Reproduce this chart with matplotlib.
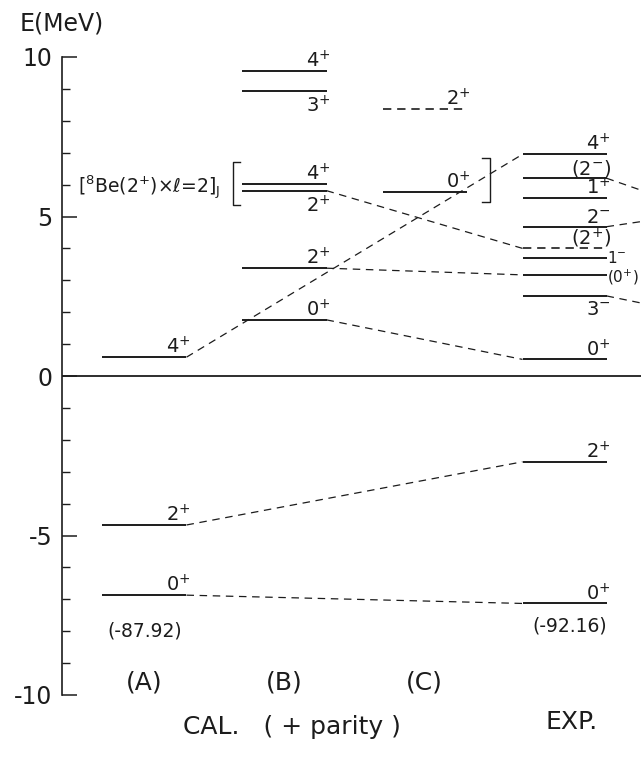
import matplotlib
matplotlib.use('Agg')
import matplotlib.pyplot as plt

plt.rcParams['font.family'] = ['DejaVu Sans']
plt.rcParams['mathtext.fontset'] = 'dejavusans'

INK = '#1c1c1c'

# ---------------- data ----------------
col_names = ['(A)', '(B)', '(C)']
col_x = [1, 2, 3, 4]          # A, B, C, EXP
half_w = 0.3

a_E = [0.59, -4.67, -6.87]
a_lab = ['4$^{+}$', '2$^{+}$', '0$^{+}$']
a_pos = ['above', 'above', 'above']

b_E = [9.57, 8.93, 6.02, 5.81, 3.38, 1.76]
b_lab = ['4$^{+}$', '3$^{+}$', '4$^{+}$', '2$^{+}$', '2$^{+}$', '0$^{+}$']
b_pos = ['above', 'below', 'above', 'below', 'above', 'above']

c_E = [8.37, 5.78]
c_lab = ['2$^{+}$', '0$^{+}$']
c_pos = ['above', 'above']
c_dashed = [True, False]

exp_E = [6.95, 6.20, 5.57, 4.68, 4.00, 3.69, 3.17, 2.51, 0.52, -2.69, -7.13]
exp_lab = ['4$^{+}$', '(2$^{-}$)', '1$^{+}$', '2$^{-}$', '(2$^{+}$)', '1$^{-}$',
           '(0$^{+}$)', '3$^{-}$', '0$^{+}$', '2$^{+}$', '0$^{+}$']
exp_pos = ['above', 'above', 'above', 'above', 'above', 'right', 'right',
           'below', 'above', 'above', 'above']
exp_dashed = [False, False, False, False, True, False, False, False, False, False, False]

# correspondences (from column, from level index) -> (to column, to level index)
links = [(0, 2, 3, 10), (0, 1, 3, 9), (0, 0, 3, 0),
         (1, 5, 3, 8), (1, 4, 3, 6), (1, 3, 3, 4)]
# links from EXP levels to the (off-chart) next column
odd_from = [1, 3, 7]
odd_E = [5.59, 4.94, 2.15]
odd_x = 5

calc_gs = '(-87.92)'
exp_gs = '(-92.16)'
yticks = [10, 5, 0, -5, -10]
ytick_labels = ['10', '5', '0', '-5', '-10']

# ---------------- figure ----------------
fig = plt.figure(figsize=(6.41, 7.66), dpi=100)
ax = fig.add_axes([62 / 641, 71 / 766, 579 / 641, 638 / 766])
ax.set_xlim(0.411, 4.546)
ax.set_ylim(-10, 10)
for s in ['top', 'right', 'bottom']:
    ax.spines[s].set_visible(False)
ax.spines['left'].set_color(INK)
ax.spines['left'].set_linewidth(1.2)
ax.set_xticks([])
ax.set_yticks(yticks)
ax.set_yticklabels(ytick_labels, fontsize=17, color=INK)
ax.set_yticks(list(range(-10, 11)), minor=True)
ax.tick_params(axis='y', which='major', direction='in', length=11, width=1.1,
               color=INK, pad=7)
ax.tick_params(axis='y', which='minor', direction='in', length=6, width=1.0,
               color=INK)

ax.axhline(0, color=INK, lw=1.3)

columns = [(a_E, a_lab, a_pos, [False] * len(a_E)),
           (b_E, b_lab, b_pos, [False] * len(b_E)),
           (c_E, c_lab, c_pos, c_dashed),
           (exp_E, exp_lab, exp_pos, exp_dashed)]

lab_fs = 14
right_dy = {'1$^{-}$': 0.5, '(0$^{+}$)': -2.0}
for ci, (Es, labs, poss, dsh) in enumerate(columns):
    xc = col_x[ci]
    for E, lab, pos, d in zip(Es, labs, poss, dsh):
        if d:
            ax.plot([xc - half_w, xc + half_w], [E, E], color=INK, lw=1.2,
                    ls=(0, (5, 3.5)))
        else:
            ax.plot([xc - half_w, xc + half_w], [E, E], color=INK, lw=1.4,
                    solid_capstyle='butt')
        xr = xc + half_w
        if pos == 'above':
            ax.annotate(lab, (xr, E), xytext=(3, 2.5), textcoords='offset points',
                        ha='right', va='baseline', fontsize=lab_fs, color=INK)
        elif pos == 'below':
            ax.annotate(lab, (xr, E), xytext=(3, -3), textcoords='offset points',
                        ha='right', va='top', fontsize=lab_fs, color=INK)
        else:
            ax.annotate(lab, (xr, E), xytext=(0.3, right_dy.get(lab, -1)),
                        textcoords='offset points', ha='left', va='center',
                        fontsize=11, color=INK)

dash = (0, (6, 4.5))
for fc, fi, tc, ti in links:
    E0 = columns[fc][0][fi]
    E1 = columns[tc][0][ti]
    ax.plot([col_x[fc] + half_w, col_x[tc] - half_w], [E0, E1], color=INK,
            lw=0.9, ls=dash)
for fi, E1 in zip(odd_from, odd_E):
    ax.plot([col_x[3] + half_w, odd_x - half_w], [exp_E[fi], E1], color=INK,
            lw=0.9, ls=dash)

# ground state binding energies
ax.text(col_x[0], -8.0, calc_gs, ha='center', va='center', fontsize=13.5, color=INK)
ax.text(col_x[3] + 0.04, -7.85, exp_gs, ha='center', va='center', fontsize=13.5,
        color=INK)

# column labels
for x, name in zip(col_x[:3], col_names):
    ax.text(x, -9.6, name, ha='center', va='center', fontsize=18, color=INK)
ax.text(2.05, -11.0, 'CAL.   ( + parity )', ha='center', va='center', fontsize=18,
        color=INK, clip_on=False)
ax.text(4.05, -10.85, 'EXP.', ha='center', va='center', fontsize=18, color=INK,
        clip_on=False)

# configuration bracket
ax.text(1.54, 5.9, r'[$^{8}$Be(2$^{+}$)$\times\ell$=2]$_{\mathrm{J}}$',
        ha='right', va='center', fontsize=13.5, color=INK)
bl = col_x[1] - half_w - 0.07
ax.plot([bl + 0.05, bl, bl, bl + 0.05], [6.71, 6.71, 5.36, 5.36], color=INK, lw=1.0)
br = col_x[2] + half_w + 0.17
ax.plot([br - 0.06, br, br, br - 0.06], [6.83, 6.83, 5.45, 5.45], color=INK, lw=1.0)

fig.text(62 / 641, 1 - 23 / 766, 'E(MeV)', ha='center', va='center', fontsize=17,
         color=INK)

fig.savefig('out.png', dpi=100, facecolor='white')
